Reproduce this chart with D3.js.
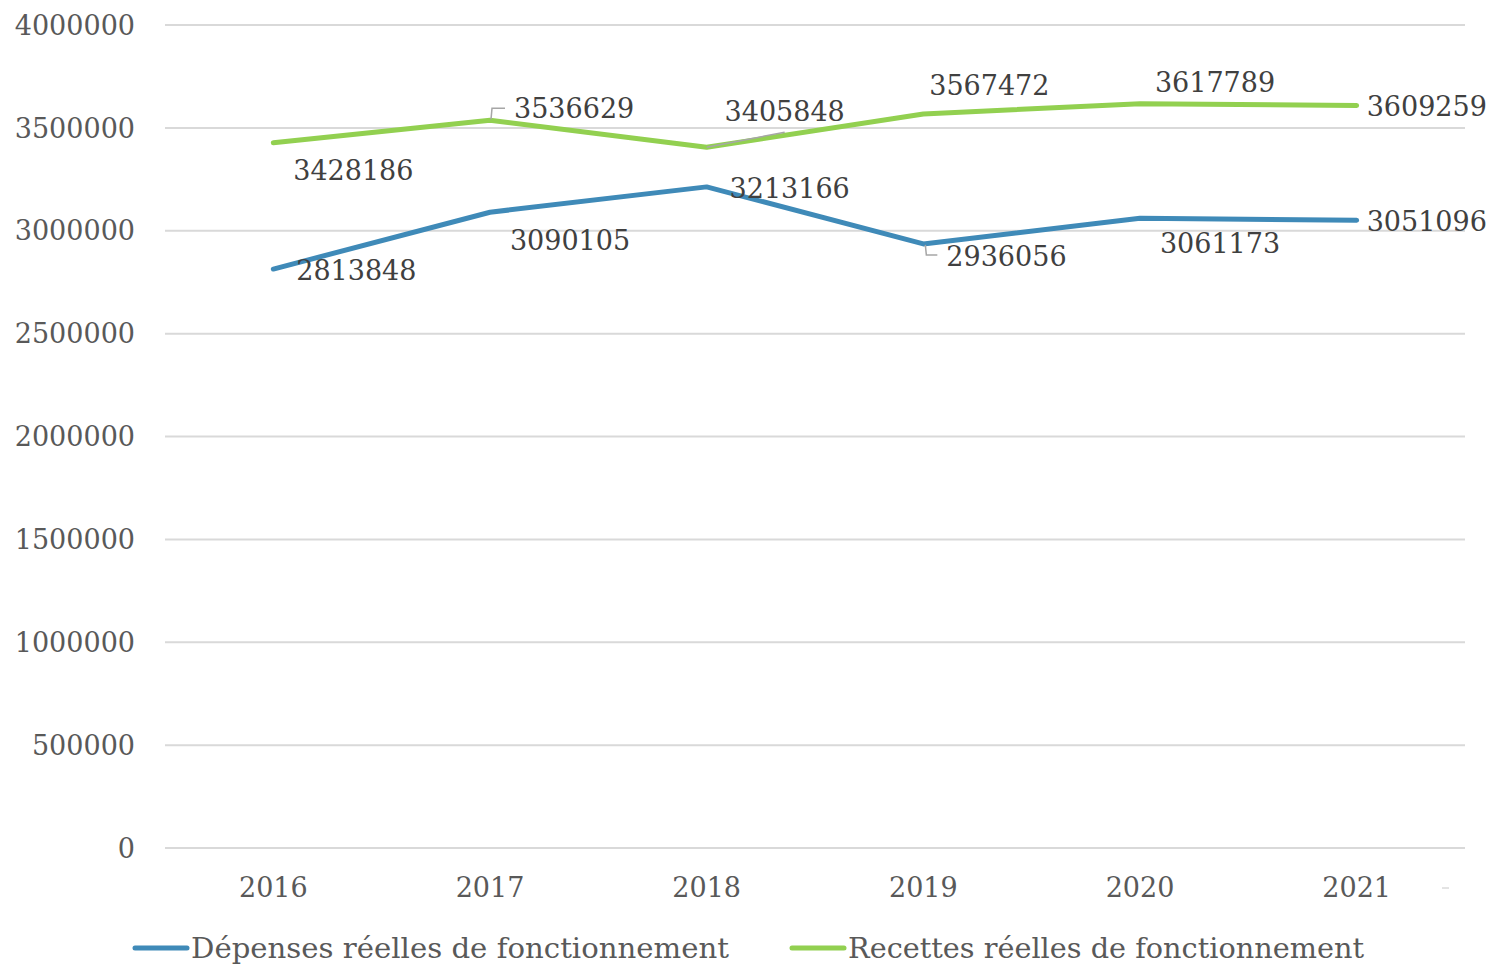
<!DOCTYPE html>
<html>
<head>
<meta charset="utf-8">
<script src="https://cdn.jsdelivr.net/npm/d3@7"></script>
<style>
  body { margin: 0; background: #fff; }
  text { font-family: "DejaVu Serif", serif; }
</style>
</head>
<body>
<svg id="chart" width="1492" height="966"></svg>
<script>
const YEARS = ["2016", "2017", "2018", "2019", "2020", "2021"];
const DEPENSES = [2813848, 3090105, 3213166, 2936056, 3061173, 3051096];
const RECETTES = [3428186, 3536629, 3405848, 3567472, 3617789, 3609259];
const Y_TICKS = [0, 500000, 1000000, 1500000, 2000000, 2500000, 3000000, 3500000, 4000000];
const SERIES_NAMES = ["Dépenses réelles de fonctionnement", "Recettes réelles de fonctionnement"];

// label placement relative to each point: [dx, dy, anchor, leader]
const DEP_LABELS = [
    [83, 1, "middle"], [80, 28, "middle"], [83, 1, "middle"],
    [23, 12, "start", "elbow-down"], [80, 25, "middle"], [10, 1, "start"]
];
const REC_LABELS = [
    [80, 28, "middle"], [24, -12, "start", "elbow-up"], [78, -36, "middle", "slant"],
    [66, -29, "middle"], [75, -21, "middle"], [10, 1, "start"]
];

const COLOR_DEP = "#3f8ab8";
const COLOR_REC = "#92d050";
const FONT_SIZE = 27;

const svg = d3.select("#chart");
const margin = { left: 165, right: 27, top: 25, bottom: 118 };
const width = +svg.attr("width");
const height = +svg.attr("height");

const x = d3.scaleBand().domain(YEARS).range([margin.left, width - margin.right]);
const y = d3.scaleLinear().domain([0, 4000000]).range([height - margin.bottom, margin.top]);
const cx = (d) => x(d) + x.bandwidth() / 2;

// grid
svg.append("g")
    .selectAll("line")
    .data(Y_TICKS)
    .enter()
    .append("line")
    .attr("x1", margin.left)
    .attr("x2", width - margin.right)
    .attr("y1", (d) => y(d))
    .attr("y2", (d) => y(d))
    .attr("stroke", "#d9d9d9")
    .attr("stroke-width", 2);

// y axis labels
svg.append("g")
    .selectAll("text")
    .data(Y_TICKS)
    .enter()
    .append("text")
    .attr("x", 135)
    .attr("y", (d) => y(d))
    .attr("dy", "0.36em")
    .attr("text-anchor", "end")
    .attr("font-size", FONT_SIZE)
    .attr("fill", "#595959")
    .text((d) => d);

// x axis labels
svg.append("g")
    .selectAll("text")
    .data(YEARS)
    .enter()
    .append("text")
    .attr("x", cx)
    .attr("y", y(0) + 39)
    .attr("dy", "0.36em")
    .attr("text-anchor", "middle")
    .attr("font-size", FONT_SIZE)
    .attr("fill", "#595959")
    .text((d) => d);

svg.append("line")
    .attr("x1", 1442).attr("x2", 1449)
    .attr("y1", y(0) + 40).attr("y2", y(0) + 40)
    .attr("stroke", "#c8c8c8").attr("stroke-width", 1);

const line = d3.line().x((d) => cx(d.year)).y((d) => y(d.value));

const drawSeries = (values, color, labels) => {
    const pts = values.map((v, i) => ({ year: YEARS[i], value: v }));
    svg.append("path")
        .datum(pts)
        .attr("d", line)
        .attr("fill", "none")
        .attr("stroke", color)
        .attr("stroke-width", 5)
        .attr("stroke-linecap", "round")
        .attr("stroke-linejoin", "round");

    const g = svg.append("g");
    pts.forEach((p, i) => {
        const [dx, dy, anchor, leader] = labels[i];
        const px = cx(p.year);
        const py = y(p.value);
        const lx = px + dx;
        const ly = py + dy;

        if (leader) {
            let d = "";
            if (leader == "elbow-up") d = `M${px + 1},${py - 1}L${px + 2},${ly}L${lx - 9},${ly}`;
            else if (leader == "elbow-down") d = `M${px + 2},${py + 1}L${px + 3},${ly - 1}L${lx - 9},${ly - 1}`;
            else d = `M${px},${py}L${lx},${ly + 21}`;
            g.append("path")
                .attr("d", d)
                .attr("fill", "none")
                .attr("stroke", "#a6a6a6")
                .attr("stroke-width", 1.5);
        }

        g.append("text")
            .attr("x", lx)
            .attr("y", ly)
            .attr("dy", "0.36em")
            .attr("text-anchor", anchor)
            .attr("font-size", FONT_SIZE)
            .attr("fill", "#404040")
            .text(p.value);
    });
};

drawSeries(DEPENSES, COLOR_DEP, DEP_LABELS);
drawSeries(RECETTES, COLOR_REC, REC_LABELS);

// legend
const legend = svg.append("g");
[[COLOR_DEP, 135, 538], [COLOR_REC, 792, 516]].forEach(([color, lx, tw], i) => {
    legend.append("line")
        .attr("x1", lx).attr("x2", lx + 52)
        .attr("y1", 948).attr("y2", 948)
        .attr("stroke", color)
        .attr("stroke-width", 5)
        .attr("stroke-linecap", "round");
    legend.append("text")
        .attr("x", lx + 56)
        .attr("y", 948)
        .attr("dy", "0.36em")
        .attr("font-size", FONT_SIZE)
        .attr("fill", "#595959")
        .attr("textLength", tw)
        .attr("lengthAdjust", "spacingAndGlyphs")
        .text(SERIES_NAMES[i]);
});
</script>
</body>
</html>
